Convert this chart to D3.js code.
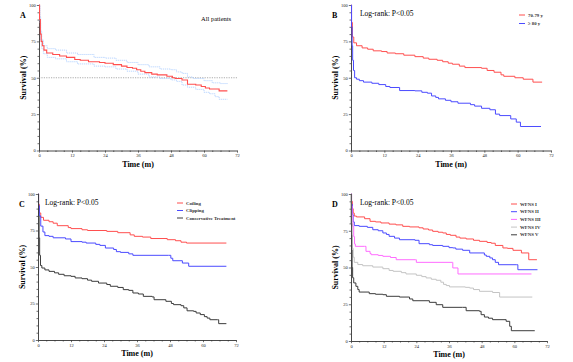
<!DOCTYPE html>
<html>
<head>
<meta charset="utf-8">
<script src="https://cdn.jsdelivr.net/npm/d3@7"></script>
<style>
  body { margin: 0; background: #fff; }
  svg { display: block; font-family: "Liberation Serif", "Times New Roman", serif; }
</style>
</head>
<body>
<script>
// canvas
var w = 573, h = 362;

// tick labels
var xTicks = [0, 12, 24, 36, 48, 60, 72];
var yTicks = [0, 25, 50, 75, 100];

// Panel A: all patients, estimate + 95% CI  [time (m), survival (%)]
var allPatients = [[0,100],[0.2,90],[0.5,80],[0.8,75],[1.2,72],[1.8,69],[2.8,67],[5,66],[7.5,65],[10,64],[13,62.5],[15,62],[18,61],[22,60.5],[24,60],[27,59],[30,58],[32,57],[34,56.5],[35.5,55.5],[37,54.5],[38.5,53.5],[41,52.5],[43,52],[46.5,51],[48.5,50],[49.5,49.5],[52,48.5],[54,45.5],[57,45],[59,44],[60.5,43],[62,42.3],[65.5,41],[68.5,41]];
var allUpper = [[0,100],[0.3,92],[0.6,82],[1,76],[1.6,72],[3,70],[6,69],[10,67],[14,66],[20,64],[24,63.5],[28,62],[32,60.5],[36,59],[40,57.5],[44,56],[48,55.5],[50,54],[52,53],[54,50.5],[56,49.5],[60,48],[63,46.5],[66,46],[68.5,45.5]];
var allLower = [[0,100],[0.3,88],[0.6,76],[1,70],[1.6,66.5],[3,64],[6,63],[10,61],[14,59.5],[20,58],[24,57.5],[28,56],[32,54.5],[36,52.5],[40,50.5],[44,49.5],[48,48.5],[50,47.5],[52,45],[54,43.5],[57,42],[60,40],[62,39],[64,37],[65.5,35.2],[68.5,35.2]];

// Panel B: age groups
var age7079 = [[0,100],[0.2,88],[0.5,78],[1,74],[2,72],[4,70.5],[6,69.6],[8,68.5],[11,68],[13,67],[16,66.5],[19,65.5],[23,64.5],[26,63.5],[28,62.7],[31,62],[33,61],[35,60],[36.5,59.3],[39,58],[41,57],[47,56.5],[49,55],[51.5,53.8],[54,52],[55,51],[59,50],[62,49],[65.5,47],[68.8,47]];
var age80 = [[0,100],[0.2,85],[0.4,72],[0.6,62],[0.9,55],[1.3,50],[2,49],[3,48],[4.5,47],[7.5,46.2],[10,45.3],[12.5,44],[14,43.3],[17.5,41.2],[23,41],[25.5,40],[27.5,39.4],[29,37.5],[30.5,36.5],[31.5,35.5],[34,34.5],[36,33.5],[38.5,32.5],[43,31.5],[44.5,30.5],[47,29],[50,28],[52,25],[53.5,24],[57.5,21.7],[59.5,19.5],[61,16.5],[68.4,16.5]];

// Panel C: treatment
var coiling = [[0,100],[0.2,93],[0.5,87],[1,84],[2,82],[4,81],[5.5,80],[7,78.3],[11,77],[12,76.3],[16,75.5],[18,75],[25,74.4],[29,73.5],[33.5,72],[35,71],[38,70.5],[41,69.5],[47,68.7],[50,68],[52,67],[54,66.4],[68.5,66.4]];
var clipping = [[0,100],[0.2,92],[0.5,85],[1,78],[1.8,74],[2.5,71.5],[4,71],[5.5,70],[10,69.2],[12,67.4],[16,67],[17.5,66.4],[21,65.5],[22.5,64.8],[24.5,63],[27.5,62],[28.5,60.5],[30,60],[33,59],[34.5,58],[47.5,58],[48.3,56],[49,54.3],[52.5,52.7],[54.8,50.5],[68.5,50.5]];
var conservative = [[0,100],[0.2,85],[0.4,70],[0.6,58],[0.9,51],[1.4,49.3],[2.5,48],[4,47],[6,46],[7.5,45],[9.5,44],[12,43.6],[13.5,42.5],[16,42],[18,41],[19.5,40.2],[22,39],[25,38],[26.3,36.8],[29,36],[31,34.5],[33,34],[34.5,32.2],[36.5,31.5],[38.3,29.9],[41.5,29.5],[42.2,27.6],[46.5,26.5],[48.5,25],[49.3,24.2],[52,23.5],[53,22],[54.2,20],[56.6,19.6],[57.5,18.5],[59,17.4],[60.5,16],[61.5,15],[62.5,13.9],[65.3,13.9],[65.7,11.2],[68.5,11.2]];

// Panel D: WFNS grade
var wfns1 = [[0,100],[0.2,95],[0.5,90],[0.8,87],[1.2,85],[2,84.4],[5,83.2],[7,81.4],[9,81],[11,80.3],[14,79.5],[16.5,79],[19,78],[21.5,77.6],[25,77],[26.5,76.2],[28.5,75.5],[30,74.6],[32,74],[33.7,73.5],[35,72.5],[36.5,71.9],[38.6,70.7],[40,70],[42.3,69.4],[45,68.5],[47.2,67.8],[50,67],[51.5,66.5],[53,65],[55.8,63.3],[57.5,63],[59.5,61.7],[62.6,59.9],[65.3,55.3],[68.3,55.3]];
var wfns2 = [[0,100],[0.2,93],[0.5,86],[0.8,81],[1.2,78.5],[3,78],[6,77.3],[8,75.7],[10,75],[11.7,73.5],[13,72.5],[14,71.2],[16,70],[17.8,68.9],[23.5,68.5],[25,66.2],[28.8,65.5],[30,65],[33.7,64.4],[36,63.5],[37.4,63.3],[38.5,62.5],[41,61.7],[43.6,59.9],[49,58.5],[49.7,57.6],[51,56.5],[52,55.3],[53,53.5],[54.2,51.9],[60.7,51.9],[61.3,48.5],[68.5,48.5]];
var wfns3 = [[0,100],[0.2,92],[0.4,85],[0.7,78],[1,71],[1.3,66],[1.6,64.4],[5,64.4],[5.5,61],[7,59.5],[7.4,58.7],[10,58.2],[11.7,57.6],[14.5,56.8],[16.6,55.3],[23.7,55.3],[24,53.5],[37.2,53.5],[37.4,49.7],[39.3,45.6],[66.3,45.6]];
var wfns4 = [[0,100],[0.15,85],[0.3,72],[0.5,63],[0.8,57],[1.2,53.5],[2.5,52],[4.3,51.2],[8,50.3],[11.7,49.2],[14,48],[15.5,47.4],[18.5,46.5],[20.2,45.6],[24,44.7],[26,43.8],[27.6,42.9],[29.5,42],[31.3,41.3],[33,40],[34,38.5],[35,37.7],[36.2,36.8],[42,36.5],[43.6,36],[45,35],[47.2,33.8],[52,33],[54.6,29.9],[66.6,29.9]];
var wfns5 = [[0,100],[0.1,80],[0.25,62],[0.4,50],[0.6,43],[1,39.5],[1.8,37.2],[2.5,35],[3,33.3],[6.7,32.2],[9,31.8],[11.7,31.5],[13,30.4],[17.8,29.9],[21.5,28.6],[22.7,27.4],[28.8,26.3],[31.3,24.7],[33.7,22.9],[41,22.9],[42.3,20.6],[47.2,20.2],[47.8,17.9],[49,16.3],[50.5,15.5],[52,14.5],[57,13.4],[58.3,10],[58.9,7],[67.5,7]];

var red = "#ff4f4f", blue = "#4b4bff", pink = "#ff6cff", lgray = "#c4c4c4", dark = "#3c3c3c";

var panels = [
  { letter: "A", x0: 39, x1: 237, y0: 5, y1: 150.5, note: "All patients", noteX: 201, noteY: 21,
    series: [ { d: allUpper, c: "#a8ccff", dash: "1.2,0.8", wd: 0.8 },
              { d: allLower, c: "#a8ccff", dash: "1.2,0.8", wd: 0.8 },
              { d: allPatients, c: red, wd: 1.1 } ],
    legend: null, median: true },
  { letter: "B", x0: 351, x1: 551, y0: 5, y1: 150.5, note: "Log-rank: P<0.05", noteX: 360, noteY: 16,
    series: [ { d: age7079, c: red, name: "70-79 y" }, { d: age80, c: blue, name: "\u2265 80 y" } ],
    legend: { x: 519, y: 15, step: 8.5 } },
  { letter: "C", x0: 38, x1: 236, y0: 194, y1: 340, note: "Log-rank: P<0.05", noteX: 45, noteY: 205,
    series: [ { d: coiling, c: red, name: "Coiling" }, { d: clipping, c: blue, name: "Clipping" },
              { d: conservative, c: dark, name: "Conservative Treatment" } ],
    legend: { x: 177, y: 203, step: 7.5 } },
  { letter: "D", x0: 351, x1: 547, y0: 194, y1: 341, note: "Log-rank: P<0.05", noteX: 360, noteY: 205,
    series: [ { d: wfns1, c: red, name: "WFNS I" }, { d: wfns2, c: blue, name: "WFNS II" },
              { d: wfns3, c: pink, name: "WFNS III" }, { d: wfns4, c: lgray, name: "WFNS IV" },
              { d: wfns5, c: dark, name: "WFNS V" } ],
    legend: { x: 511, y: 204, step: 7.7 } }
];

var svg = d3.select("body").append("svg")
  .attr("width", w)
  .attr("height", h);

panels.forEach(function(p) {
  var x = d3.scaleLinear().domain([0, 72]).range([p.x0, p.x1]);
  var y = d3.scaleLinear().domain([0, 100]).range([p.y1, p.y0]);
  var g = svg.append("g");

  // minor ticks
  var minorX = d3.range(0, 73, 3).filter(function(t) { return t % 12 != 0; });
  var minorY = d3.range(0, 101, 5).filter(function(t) { return t % 25 != 0; });
  g.append("g").attr("transform", "translate(0," + p.y1 + ")")
    .call(d3.axisBottom(x).tickValues(minorX).tickSize(1.5).tickFormat(""))
    .call(function(a) { a.select(".domain").remove(); });
  g.append("g").attr("transform", "translate(" + p.x0 + ",0)")
    .call(d3.axisLeft(y).tickValues(minorY).tickSize(1.5).tickFormat(""))
    .call(function(a) { a.select(".domain").remove(); });

  // major axes
  var xa = g.append("g").attr("transform", "translate(0," + p.y1 + ")")
    .call(d3.axisBottom(x).tickValues(xTicks).tickSize(2.2).tickSizeOuter(0).tickPadding(1.5));
  var ya = g.append("g").attr("transform", "translate(" + p.x0 + ",0)")
    .call(d3.axisLeft(y).tickValues(yTicks).tickSize(2.2).tickSizeOuter(0).tickPadding(1));
  [xa, ya].forEach(function(a) {
    a.selectAll("text").style("font-size", "4.5px").style("font-family", "Liberation Serif").attr("fill", "#222");
  });
  g.selectAll(".domain").attr("stroke", "#333").attr("stroke-width", 0.9);
  g.selectAll(".tick line").attr("stroke", "#333").attr("stroke-width", 0.7);

  if (p.median) {
    g.append("line")
      .attr("x1", x(0)).attr("x2", x(72)).attr("y1", y(50)).attr("y2", y(50))
      .attr("stroke", "#888").attr("stroke-width", 0.7).attr("stroke-dasharray", "1.2,1.2");
  }

  var line = d3.line()
    .x(function(d) { return x(d[0]); })
    .y(function(d) { return y(d[1]); })
    .curve(d3.curveStepAfter);

  p.series.forEach(function(s) {
    g.append("path").datum(s.d)
      .attr("d", line)
      .attr("fill", "none")
      .attr("stroke", s.c)
      .attr("stroke-width", s.wd || 1)
      .attr("stroke-dasharray", s.dash || null);
  });

  // titles
  g.append("text")
    .attr("transform", "translate(" + (p.x0 - 13) + "," + ((p.y0 + p.y1) / 2) + ") rotate(-90)")
    .attr("text-anchor", "middle")
    .style("font-size", "8px").style("font-weight", "bold")
    .text("Survival (%)");
  g.append("text")
    .attr("x", (p.x0 + p.x1) / 2).attr("y", p.y1 + 16)
    .attr("text-anchor", "middle")
    .style("font-size", "8px").style("font-weight", "bold")
    .text("Time (m)");
  g.append("text")
    .attr("x", p.x0 - 19).attr("y", p.y0 + 13)
    .style("font-size", "8px").style("font-weight", "bold")
    .text(p.letter);
  g.append("text")
    .attr("x", p.noteX).attr("y", p.noteY)
    .style("font-size", p.median ? "6.5px" : "7.5px")
    .text(p.note);

  if (p.legend) {
    p.series.forEach(function(s, i) {
      var ly = p.legend.y + i * p.legend.step;
      g.append("line")
        .attr("x1", p.legend.x).attr("x2", p.legend.x + 6)
        .attr("y1", ly).attr("y2", ly)
        .attr("stroke", s.c).attr("stroke-width", 1);
      g.append("text")
        .attr("x", p.legend.x + 9).attr("y", ly + 1.6)
        .style("font-size", "4.8px").style("font-weight", "bold").attr("fill", "#333")
        .text(s.name);
    });
  }
});
</script>
</body>
</html>
